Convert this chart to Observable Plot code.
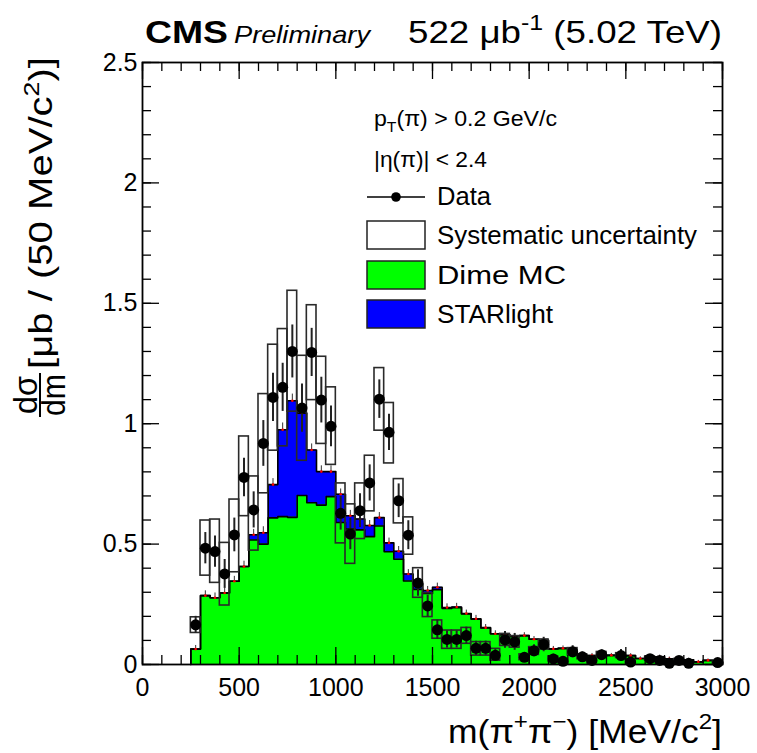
<!DOCTYPE html>
<html>
<head>
<meta charset="utf-8">
<script src="https://cdn.jsdelivr.net/npm/d3@7"></script>
<script src="https://cdn.jsdelivr.net/npm/@observablehq/plot@0.6"></script>
<style>
  body { margin: 0; background: #fff; }
  #chart svg text { font-family: "Liberation Sans", Arial, Helvetica, sans-serif; }
</style>
</head>
<body>
<div id="chart"></div>
<script>
// pi+ pi- invariant mass spectrum, 50 MeV bins from 250 to 3000 MeV
const binWidth = 50;
const binLow = d3.range(250, 3000, binWidth);

// measured cross section per bin [ub / 50 MeV]
const dataXsec = [
  0.165, 0.483, 0.469, 0.376, 0.538, 0.777, 0.642, 0.918, 1.109, 1.151,
  1.300, 1.065, 1.296, 1.098, 0.989, 0.628, 0.542, 0.639, 0.754, 1.102,
  0.964, 0.680, 0.537, 0.338, 0.243, 0.144, 0.104, 0.104, 0.120, 0.067,
  0.067, 0.038, 0.102, 0.094, 0.030, 0.057, 0.083, 0.023, 0.013, 0.053,
  0.032, 0.017, 0.041, null, 0.037, 0.010, null, 0.024, 0.017, 0.005,
  0.017, 0.005, null, null, 0.008
];
// statistical uncertainty (half length of the error bar)
const statErr = [
  0.035, 0.065, 0.065, 0.060, 0.070, 0.080, 0.075, 0.095, 0.100, 0.100,
  0.110, 0.100, 0.100, 0.095, 0.085, 0.070, 0.065, 0.070, 0.075, 0.080,
  0.075, 0.070, 0.060, 0.055, 0.045, 0.040, 0.035, 0.035, 0.035, 0.030,
  0.030, 0.025, 0.035, 0.035, 0.020, 0.025, 0.030, 0.020, 0.015, 0.025,
  0.020, 0.015, 0.020, null, 0.025, 0.015, null, 0.015, 0.015, 0.010,
  0.015, 0.010, null, null, 0.010
];
// systematic band, lower and upper edge
const systLow = [
  0.131, 0.369, 0.339, 0.245, 0.383, 0.616, 0.473, 0.711, 0.888, 0.906,
  1.050, 0.846, 1.098, 0.916, 0.829, 0.503, 0.418, 0.521, 0.636, 0.971,
  0.835, 0.586, 0.456, 0.277, 0.197, 0.107, 0.065, 0.065, 0.086, 0.037,
  0.037, 0.016, 0.077, 0.070, 0.018, 0.040, 0.062, 0.013, 0.006, 0.038,
  0.022, 0.010, 0.030, null, 0.027, 0.005, null, 0.016, 0.011, 0.002,
  0.011, 0.002, null, null, 0.004
];
const systHigh = [
  0.196, 0.598, 0.602, 0.505, 0.685, 0.947, 0.781, 1.123, 1.328, 1.393,
  1.552, 1.282, 1.492, 1.278, 1.151, 0.752, 0.665, 0.752, 0.867, 1.231,
  1.086, 0.770, 0.611, 0.400, 0.296, 0.183, 0.141, 0.141, 0.152, 0.093,
  0.093, 0.065, 0.127, 0.118, 0.042, 0.072, 0.104, 0.033, 0.020, 0.068,
  0.042, 0.024, 0.052, null, 0.047, 0.015, null, 0.032, 0.023, 0.008,
  0.023, 0.008, null, null, 0.012
];
// Dime MC (continuum) prediction
const dimeMC = [
  0.064, 0.286, 0.277, 0.297, 0.346, 0.407, 0.517, 0.500, 0.609, 0.614,
  0.611, 0.702, 0.672, 0.662, 0.697, 0.590, 0.563, 0.559, 0.531, 0.575,
  0.468, 0.437, 0.347, 0.312, 0.295, 0.311, 0.233, 0.236, 0.210, 0.188,
  0.152, 0.128, 0.124, 0.116, 0.120, 0.105, 0.100, 0.065, 0.067, 0.046,
  0.038, 0.037, 0.034, 0.038, 0.034, 0.037, 0.025, 0.033, 0.032, 0.024,
  0.021, 0.020, 0.011, 0.017, 0.011
];
// STARlight (photoproduced rho) contribution stacked on top of Dime
const starlight = [
  0, 0, 0, 0, 0, 0, 0.022, 0.047, 0.138, 0.361,
  0.484, 0.342, 0.219, 0.139, 0.104, 0.117, 0.055, 0.045, 0.046, 0.035,
  0.037, 0.033, 0.029, 0.023, 0.012, 0.010, 0.004, 0.003, 0.002, 0.002,
  0.001, 0, 0, 0, 0, 0, 0, 0, 0, 0,
  0, 0, 0, 0, 0, 0, 0, 0, 0, 0,
  0, 0, 0, 0, 0
];
// MC statistical uncertainty on the stacked prediction
const mcErr = [
  0.015, 0.020, 0.020, 0.020, 0.020, 0.022, 0.022, 0.025, 0.025, 0.028,
  0.028, 0.026, 0.025, 0.024, 0.024, 0.022, 0.022, 0.021, 0.021, 0.021,
  0.020, 0.020, 0.018, 0.018, 0.017, 0.017, 0.015, 0.015, 0.014, 0.014,
  0.013, 0.012, 0.012, 0.012, 0.012, 0.011, 0.011, 0.010, 0.010, 0.009,
  0.009, 0.009, 0.008, 0.008, 0.008, 0.008, 0.007, 0.007, 0.007, 0.007,
  0.006, 0.006, 0.006, 0.006, 0.006
];

const xMajorTicks = [0, 500, 1000, 1500, 2000, 2500, 3000];
const xMinorTicks = d3.range(0, 3001, 100);
const yMajorTicks = [0, 0.5, 1, 1.5, 2, 2.5];
const yMinorTicks = d3.range(0, 26).map(k => k / 10);

// ---- derived tables ----
const bins = binLow.map((lo, i) => ({
  lo, hi: lo + binWidth, mid: lo + binWidth / 2,
  data: dataXsec[i], stat: statErr[i], sLo: systLow[i], sHi: systHigh[i],
  dime: dimeMC[i], total: dimeMC[i] + starlight[i], mcErr: mcErr[i]
}));
const measured = bins.filter(d => d.data != null);

// step outline points: every bin contributes its two edges
const steps = [{x: bins[0].lo, dime: 0, total: 0}]
  .concat(bins.flatMap(d => [
    {x: d.lo, dime: d.dime, total: d.total},
    {x: d.hi, dime: d.dime, total: d.total}
  ]))
  .concat([{x: bins[bins.length - 1].hi, dime: 0, total: 0}]);

// ---- geometry ----
const W = 757, H = 753;
const mL = 142, mR = 35, mT = 62, mB = 89;
const innerW = W - mL - mR, innerH = H - mT - mB;
const majorLen = 17, minorLen = 9;

const plot = Plot.plot({
  width: W, height: H,
  marginLeft: mL, marginRight: mR, marginTop: mT, marginBottom: mB,
  x: {domain: [0, 3000]},
  y: {domain: [0, 2.5]},
  style: {background: "white", color: "black", fontFamily: "Liberation Sans, Arial, sans-serif", fontSize: "26px"},
  marks: [
    // stacked MC
    Plot.areaY(steps, {x: "x", y1: 0, y2: "total", fill: "#0000ff"}),
    Plot.areaY(steps, {x: "x", y1: 0, y2: "dime", fill: "#00ff00"}),
    Plot.line(steps, {x: "x", y: "total", stroke: "black", strokeWidth: 1.6}),
    Plot.line(steps, {x: "x", y: "dime", stroke: "black", strokeWidth: 1.6}),
    // MC statistical error markers
    Plot.ruleX(bins, {x: "mid", y1: "total", y2: d => d.total + d.mcErr, stroke: "#333", strokeWidth: 1}),
    Plot.dot(bins, {x: "mid", y: "total", r: 1.3, fill: "red"}),
    // systematic uncertainty boxes
    Plot.rect(measured, {x1: "lo", x2: "hi", y1: "sLo", y2: "sHi", fill: "none", stroke: "#2a2a2a", strokeWidth: 1.6}),
    // data with statistical errors
    Plot.ruleX(measured, {x: "mid", y1: d => Math.max(0, d.data - d.stat), y2: d => d.data + d.stat, stroke: "#222", strokeWidth: 2}),
    Plot.dot(measured, {x: "mid", y: "data", r: 5.5, fill: "black"}),
    // inward ticks on all four sides
    Plot.ruleX(xMinorTicks, {x: d => d, insetTop: innerH - minorLen, stroke: "black", strokeWidth: 1.3}),
    Plot.ruleX(xMinorTicks, {x: d => d, insetBottom: innerH - minorLen, stroke: "black", strokeWidth: 1.3}),
    Plot.ruleX(xMajorTicks, {x: d => d, insetTop: innerH - majorLen, stroke: "black", strokeWidth: 1.3}),
    Plot.ruleX(xMajorTicks, {x: d => d, insetBottom: innerH - majorLen, stroke: "black", strokeWidth: 1.3}),
    Plot.ruleY(yMinorTicks, {y: d => d, insetRight: innerW - minorLen, stroke: "black", strokeWidth: 1.3}),
    Plot.ruleY(yMinorTicks, {y: d => d, insetLeft: innerW - minorLen, stroke: "black", strokeWidth: 1.3}),
    Plot.ruleY(yMajorTicks, {y: d => d, insetRight: innerW - majorLen, stroke: "black", strokeWidth: 1.3}),
    Plot.ruleY(yMajorTicks, {y: d => d, insetLeft: innerW - majorLen, stroke: "black", strokeWidth: 1.3}),
    Plot.frame({stroke: "black", strokeWidth: 1.8}),
    // tick labels
    Plot.axisX(xMajorTicks, {tickSize: 0, tickPadding: 14, tickFormat: "d", label: null, fontSize: 25}),
    Plot.axisY(yMajorTicks, {tickSize: 0, tickPadding: 5, tickFormat: "~g", label: null, fontSize: 25})
  ]
});
document.getElementById("chart").appendChild(plot);

// ---- text annotations and legend ----
const svg = d3.select(plot);
const FONT = "Liberation Sans, Arial, Helvetica, sans-serif";

function addText(x, y, size, opts = {}) {
  const t = svg.append("text")
    .attr("x", x).attr("y", y)
    .attr("font-size", size)
    .attr("font-family", FONT)
    .attr("fill", "black")
    .attr("text-anchor", opts.anchor || "start");
  if (opts.weight) t.attr("font-weight", opts.weight);
  if (opts.style) t.attr("font-style", opts.style);
  if (opts.length) t.attr("textLength", opts.length).attr("lengthAdjust", "spacingAndGlyphs");
  return t;
}
// pieces: [text, shift] where shift = "sup" | "sub" | undefined
function runs(t, parts, size) {
  let offset = 0;
  parts.forEach(([s, kind]) => {
    const target = kind === "sup" ? -0.42 * size : kind === "sub" ? 0.28 * size : 0;
    const span = t.append("tspan").attr("dy", target - offset).text(s);
    if (kind) span.attr("font-size", size * 0.68);
    offset = target;
  });
}

// header
addText(145, 43, 32, {weight: "bold", length: 83}).text("CMS");
addText(234, 43, 24, {style: "italic", length: 136}).text("Preliminary");
runs(addText(722, 43, 32, {anchor: "end", length: 314}),
  [["522 μb"], ["-1", "sup"], [" (5.02 TeV)"]], 32);

// x-axis title
runs(addText(722, 743, 33, {anchor: "end", length: 274}),
  [["m(π"], ["+", "sup"], ["π"], ["−", "sup"], [") [MeV/c"], ["2", "sup"], ["]"]], 33);

// y-axis title: fraction dσ/dm followed by units, rotated
const yt = svg.append("g").attr("transform", "translate(40,417) rotate(-90)");
yt.append("line").attr("x1", 0).attr("x2", 44).attr("y1", 0).attr("y2", 0)
  .attr("stroke", "black").attr("stroke-width", 2);
yt.append("text").attr("x", 22).attr("y", -3).attr("text-anchor", "middle")
  .attr("font-size", 34).attr("font-family", FONT)
  .attr("textLength", 38).attr("lengthAdjust", "spacingAndGlyphs").text("dσ");
yt.append("text").attr("x", 22).attr("y", 25).attr("text-anchor", "middle")
  .attr("font-size", 33).attr("font-family", FONT)
  .attr("textLength", 42).attr("lengthAdjust", "spacingAndGlyphs").text("dm");
const units = yt.append("text").attr("x", 48).attr("y", 12)
  .attr("text-anchor", "start")
  .attr("font-size", 33).attr("font-family", FONT)
  .attr("textLength", 312).attr("lengthAdjust", "spacingAndGlyphs");
units.append("tspan").text("[μb / (50 MeV/c");
units.append("tspan").attr("dy", -13).attr("font-size", 22).text("2");
units.append("tspan").attr("dy", 13).text(")]");

// selection cuts
runs(addText(374, 126, 22, {length: 183}),
  [["p"], ["T", "sub"], ["(π) > 0.2 GeV/c"]], 22);
addText(374, 167, 22, {length: 113}).text("|η(π)| < 2.4");

// legend
const legX = 367, legW = 58, textX = 437;
svg.append("line").attr("x1", legX).attr("x2", legX + legW).attr("y1", 197).attr("y2", 197)
  .attr("stroke", "black").attr("stroke-width", 1.5);
svg.append("circle").attr("cx", legX + legW / 2).attr("cy", 197).attr("r", 4.8).attr("fill", "black");
addText(textX, 205, 25, {length: 54}).text("Data");

const legendBoxes = [
  {y: 221, fill: "white", label: "Systematic uncertainty", len: 260},
  {y: 261, fill: "#00ff00", label: "Dime MC", len: 129},
  {y: 300, fill: "#0000ff", label: "STARlight", len: 116}
];
legendBoxes.forEach(b => {
  svg.append("rect").attr("x", legX).attr("y", b.y).attr("width", legW).attr("height", 28)
    .attr("fill", b.fill).attr("stroke", "#222").attr("stroke-width", 1.5);
  addText(textX, b.y + 23, 25, {length: b.len}).text(b.label);
});
</script>
</body>
</html>
